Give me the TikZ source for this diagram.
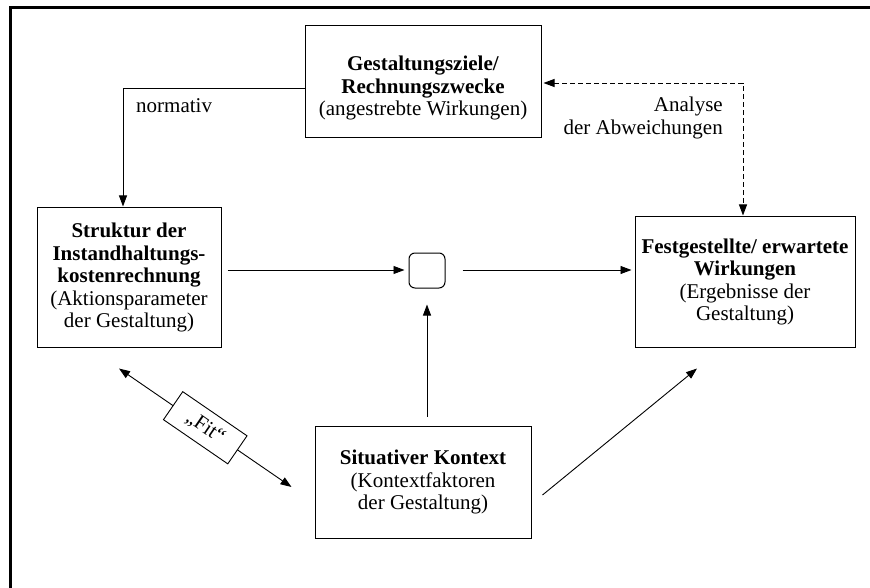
\documentclass[tikz,border=0pt]{standalone}
\usepackage{fontspec}
\setmainfont{Liberation Serif}
\usetikzlibrary{arrows.meta,calc}
\begin{document}
\begin{tikzpicture}[x=1pt,y=-1pt,
  txt/.style={font=\fontsize{21}{22.5}\selectfont},
  box/.style={txt,draw,line width=1pt,align=center,inner sep=0pt},
  tip/.tip={Triangle[length=11pt,width=8pt]},
  conn/.style={line width=0.9pt,-tip},
  lbl/.style={txt,inner sep=0pt}]
\useasboundingbox (0,0) rectangle (870,588);
% frame on the left and top edges
\draw[line width=3pt] (10,588) -- (10,8) -- (870,8);

% boxes
\node[box,minimum width=236pt,minimum height=112pt] (ziele) at (423,82)
  {\rule{0pt}{27pt}\textbf{Gestaltungsziele/}\\\textbf{Rechnungszwecke}\\(angestrebte Wirkungen)};
\node[box,minimum width=184pt,minimum height=139pt] (struktur) at (129,277.5)
  {\textbf{Struktur der}\\\textbf{Instandhaltungs-}\\\textbf{kostenrechnung}\\(Aktionsparameter\\der Gestaltung)};
\node[box,minimum width=220pt,minimum height=130pt] (wirk) at (745,282)
  {\textbf{Festgestellte/ erwartete}\\\textbf{Wirkungen}\\(Ergebnisse der\\Gestaltung)};
\node[box,minimum width=216pt,minimum height=112pt] (situation) at (423,482)
  {\textbf{Situativer Kontext}\\(Kontextfaktoren\\der Gestaltung)};
\node[draw,line width=1pt,rounded corners=6pt,minimum width=36pt,minimum height=35pt,inner sep=0pt] (knoten) at (427,270.5) {};

% connectors
\draw[conn] ($(ziele.west)+(0,6)$) -| ($(struktur.north)+(-6,-1)$);
\node[lbl,anchor=west] (normativ) at (136,106) {normativ};

\draw[conn,tip-tip,dash pattern=on 5pt off 3pt] ($(ziele.east)+(2,1)$) -| ($(wirk.north)+(-2,-1)$);
\node[lbl,anchor=east,align=right] (analyse) at (723,118) {Analyse\\der Abweichungen};

\draw[conn] ($(struktur.east)+(6,-7.5)$) -- ($(knoten.west)+(-4,-0.5)$);
\draw[conn] ($(knoten.east)+(17,-0.5)$) -- ($(wirk.west)+(-3,-12)$);
\draw[conn] ($(situation.north)+(4,-9)$) -- ($(knoten.south)+(0,16)$);
\draw[conn] ($(situation.east)+(11,13)$) -- ($(wirk.south)+(-48,21)$);

\draw[conn,tip-tip] ($(struktur.south)+(-10,21)$) --
  node[sloped,draw,line width=0.9pt,fill=white,txt,minimum width=78pt,minimum height=34pt,inner sep=0pt] (fit) {„Fit“}
  ($(situation.west)+(-23,5)$);
\end{tikzpicture}
\end{document}
